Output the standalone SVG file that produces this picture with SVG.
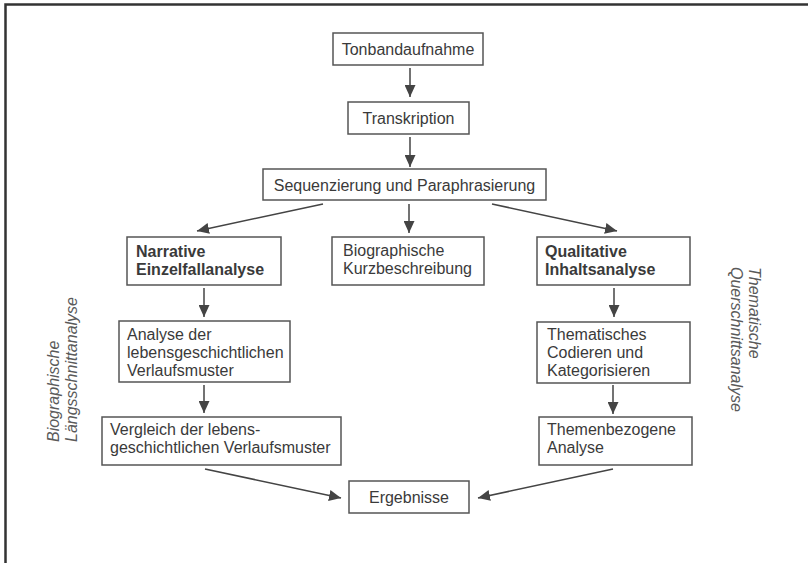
<svg xmlns="http://www.w3.org/2000/svg" width="808" height="563" viewBox="0 0 808 563">
<style>
.box{fill:#fff;stroke:#555;stroke-width:1.5}
.t{font-family:"Liberation Sans",Arial,sans-serif;font-size:16px;fill:#3a3a3a}
.c{text-anchor:middle}
.b{font-weight:bold}
.side{font-family:"Liberation Sans",Arial,sans-serif;font-size:16px;font-style:italic;fill:#5a5a5a}
.con line{stroke:#444;stroke-width:1.5;marker-end:url(#ah)}
</style>
<defs>
<marker id="ah" markerUnits="userSpaceOnUse" markerWidth="12" markerHeight="11" refX="12" refY="5.5" orient="auto">
<path d="M0,0 L12,5.5 L0,11 z" fill="#444"/>
</marker>
</defs>
<rect width="808" height="563" fill="#fff"/>
<path d="M5.5,563 V4.5 H808" fill="none" stroke="#333" stroke-width="2.5"/>

<g id="n-ton"><rect class="box" x="333" y="33" width="150" height="32"/><text class="t c" x="408" y="55">Tonbandaufnahme</text></g>
<g id="n-trans"><rect class="box" x="348" y="102" width="121" height="32"/><text class="t c" x="408.5" y="124">Transkription</text></g>
<g id="n-seq"><rect class="box" x="263" y="169" width="283" height="31"/><text class="t c" x="404.5" y="191">Sequenzierung und Paraphrasierung</text></g>
<g id="n-narr"><rect class="box" x="127" y="237" width="154" height="48"/><text class="t b" x="136" y="257">Narrative</text><text class="t b" x="136" y="275">Einzelfallanalyse</text></g>
<g id="n-bio"><rect class="box" x="332" y="237" width="152" height="48"/><text class="t" x="343" y="256">Biographische</text><text class="t" x="343" y="274">Kurzbeschreibung</text></g>
<g id="n-qual"><rect class="box" x="537" y="237" width="153" height="48"/><text class="t b" x="545" y="257">Qualitative</text><text class="t b" x="545" y="275">Inhaltsanalyse</text></g>
<g id="n-anal"><rect class="box" x="119" y="321" width="171" height="61"/><text class="t" x="127" y="340">Analyse der</text><text class="t" x="127" y="358">lebensgeschichtlichen</text><text class="t" x="127" y="376">Verlaufsmuster</text></g>
<g id="n-them"><rect class="box" x="537" y="322" width="153" height="61"/><text class="t" x="547" y="340">Thematisches</text><text class="t" x="547" y="358">Codieren und</text><text class="t" x="547" y="376">Kategorisieren</text></g>
<g id="n-vgl"><rect class="box" x="102" y="417" width="239" height="48"/><text class="t" x="110" y="435">Vergleich der lebens-</text><text class="t" x="110" y="453">geschichtlichen Verlaufsmuster</text></g>
<g id="n-tb"><rect class="box" x="539" y="417" width="153" height="48"/><text class="t" x="547" y="435">Themenbezogene</text><text class="t" x="547" y="453">Analyse</text></g>
<g id="n-erg"><rect class="box" x="349" y="481" width="120" height="32"/><text class="t c" x="409" y="503">Ergebnisse</text></g>

<g id="side-left">
<text class="side" transform="translate(59,442) rotate(-90)">Biographische</text>
<text class="side" transform="translate(77,442) rotate(-90)">Längsschnittanalyse</text>
</g>
<g id="side-right">
<text class="side" transform="translate(748.5,267) rotate(90)">Thematische</text>
<text class="side" transform="translate(730.5,267) rotate(90)">Querschnittsanalyse</text>
</g>

<g id="connectors" class="con">
<line x1="410" y1="68" x2="410" y2="97"/>
<line x1="410" y1="137" x2="410" y2="167"/>
<line x1="323" y1="204" x2="197" y2="231"/>
<line x1="409" y1="204" x2="409" y2="233"/>
<line x1="492" y1="204" x2="617" y2="231"/>
<line x1="204" y1="288" x2="204" y2="317"/>
<line x1="614" y1="288" x2="614" y2="317"/>
<line x1="204" y1="385" x2="204" y2="413"/>
<line x1="613" y1="385" x2="613" y2="414"/>
<line x1="205" y1="469" x2="341" y2="498"/>
<line x1="613" y1="469" x2="478" y2="498"/>
</g>
</svg>
